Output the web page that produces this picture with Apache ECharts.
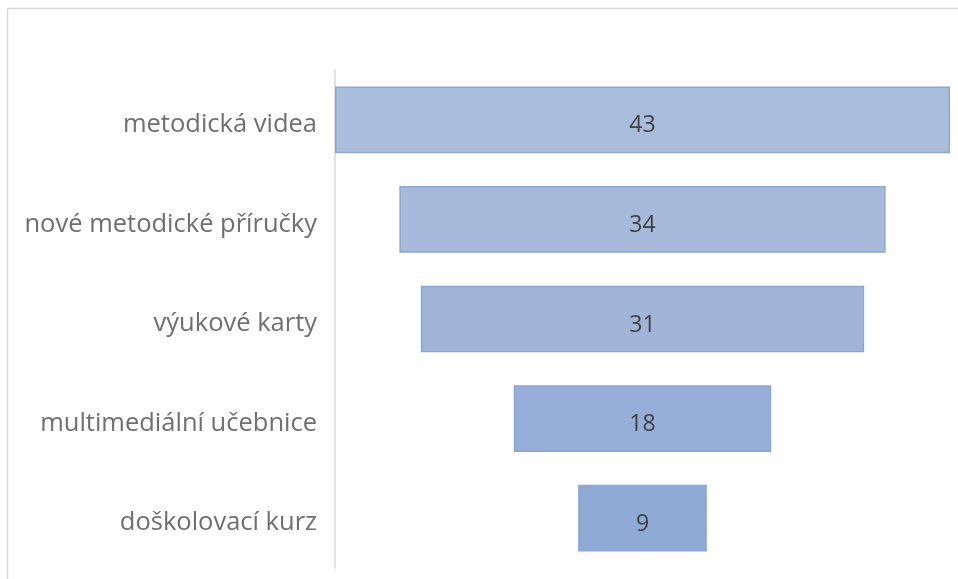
<!DOCTYPE html>
<html>
<head>
<meta charset="utf-8">
<script src="https://cdn.jsdelivr.net/npm/echarts@6/dist/echarts.min.js"></script>
<style>html,body{margin:0;padding:0;background:#fff}#c{width:958px;height:579px}</style>
</head>
<body>
<div id="c"></div>
<script>
const categories = ["metodická videa", "nové metodické příručky", "výukové karty", "multimediální učebnice", "doškolovací kurz"];
const values = [43, 34, 31, 18, 9];
const barColors = ["#abbddd", "#a7badb", "#a1b5d9", "#97afd8", "#8eaad5"];

const maxV = Math.max(...values);
const pad = values.map(v => (maxV - v) / 2);

const chart = echarts.init(document.getElementById('c'), null, {renderer: 'canvas'});
chart.setOption({
  animation: false,
  backgroundColor: '#ffffff',
  graphic: [
    {type: 'line', shape: {x1: 7.5, y1: 8.5, x2: 958, y2: 8.5}, style: {stroke: '#d9d9d9', lineWidth: 1.5}},
    {type: 'line', shape: {x1: 7.5, y1: 8.5, x2: 7.5, y2: 579}, style: {stroke: '#d9d9d9', lineWidth: 1.5}}
  ],
  grid: {left: 335, right: 8, top: 70, bottom: 11, containLabel: false},
  xAxis: {type: 'value', min: 0, max: maxV, show: false},
  yAxis: {
    type: 'category', data: categories, inverse: true,
    axisLine: {show: true, lineStyle: {color: '#d9d9d9', width: 1.5}},
    axisTick: {show: false},
    axisLabel: {color: '#6f6f6f', fontSize: 25.5, fontFamily: 'Open Sans', margin: 18,
      rich: {a: {fontSize: 25.5, fontFamily: 'Open Sans', color: '#6f6f6f', padding: [10, 0, 0, 0]}},
      formatter: v => '{a|' + v + '}'}
  },
  series: [
    {type: 'bar', stack: 'f', data: pad, itemStyle: {color: 'transparent'}, barCategoryGap: '33%', silent: true},
    {type: 'bar', stack: 'f', barCategoryGap: '33%',
     data: values.map((v, i) => ({value: v, itemStyle: {color: barColors[i]}})),
     itemStyle: {borderColor: '#8ba7d4', borderWidth: 1.5},
     label: {show: true, position: 'inside', color: '#404040', fontSize: 23, fontFamily: 'Open Sans', offset: [0, 6]}
    }
  ]
});
</script>
</body>
</html>
